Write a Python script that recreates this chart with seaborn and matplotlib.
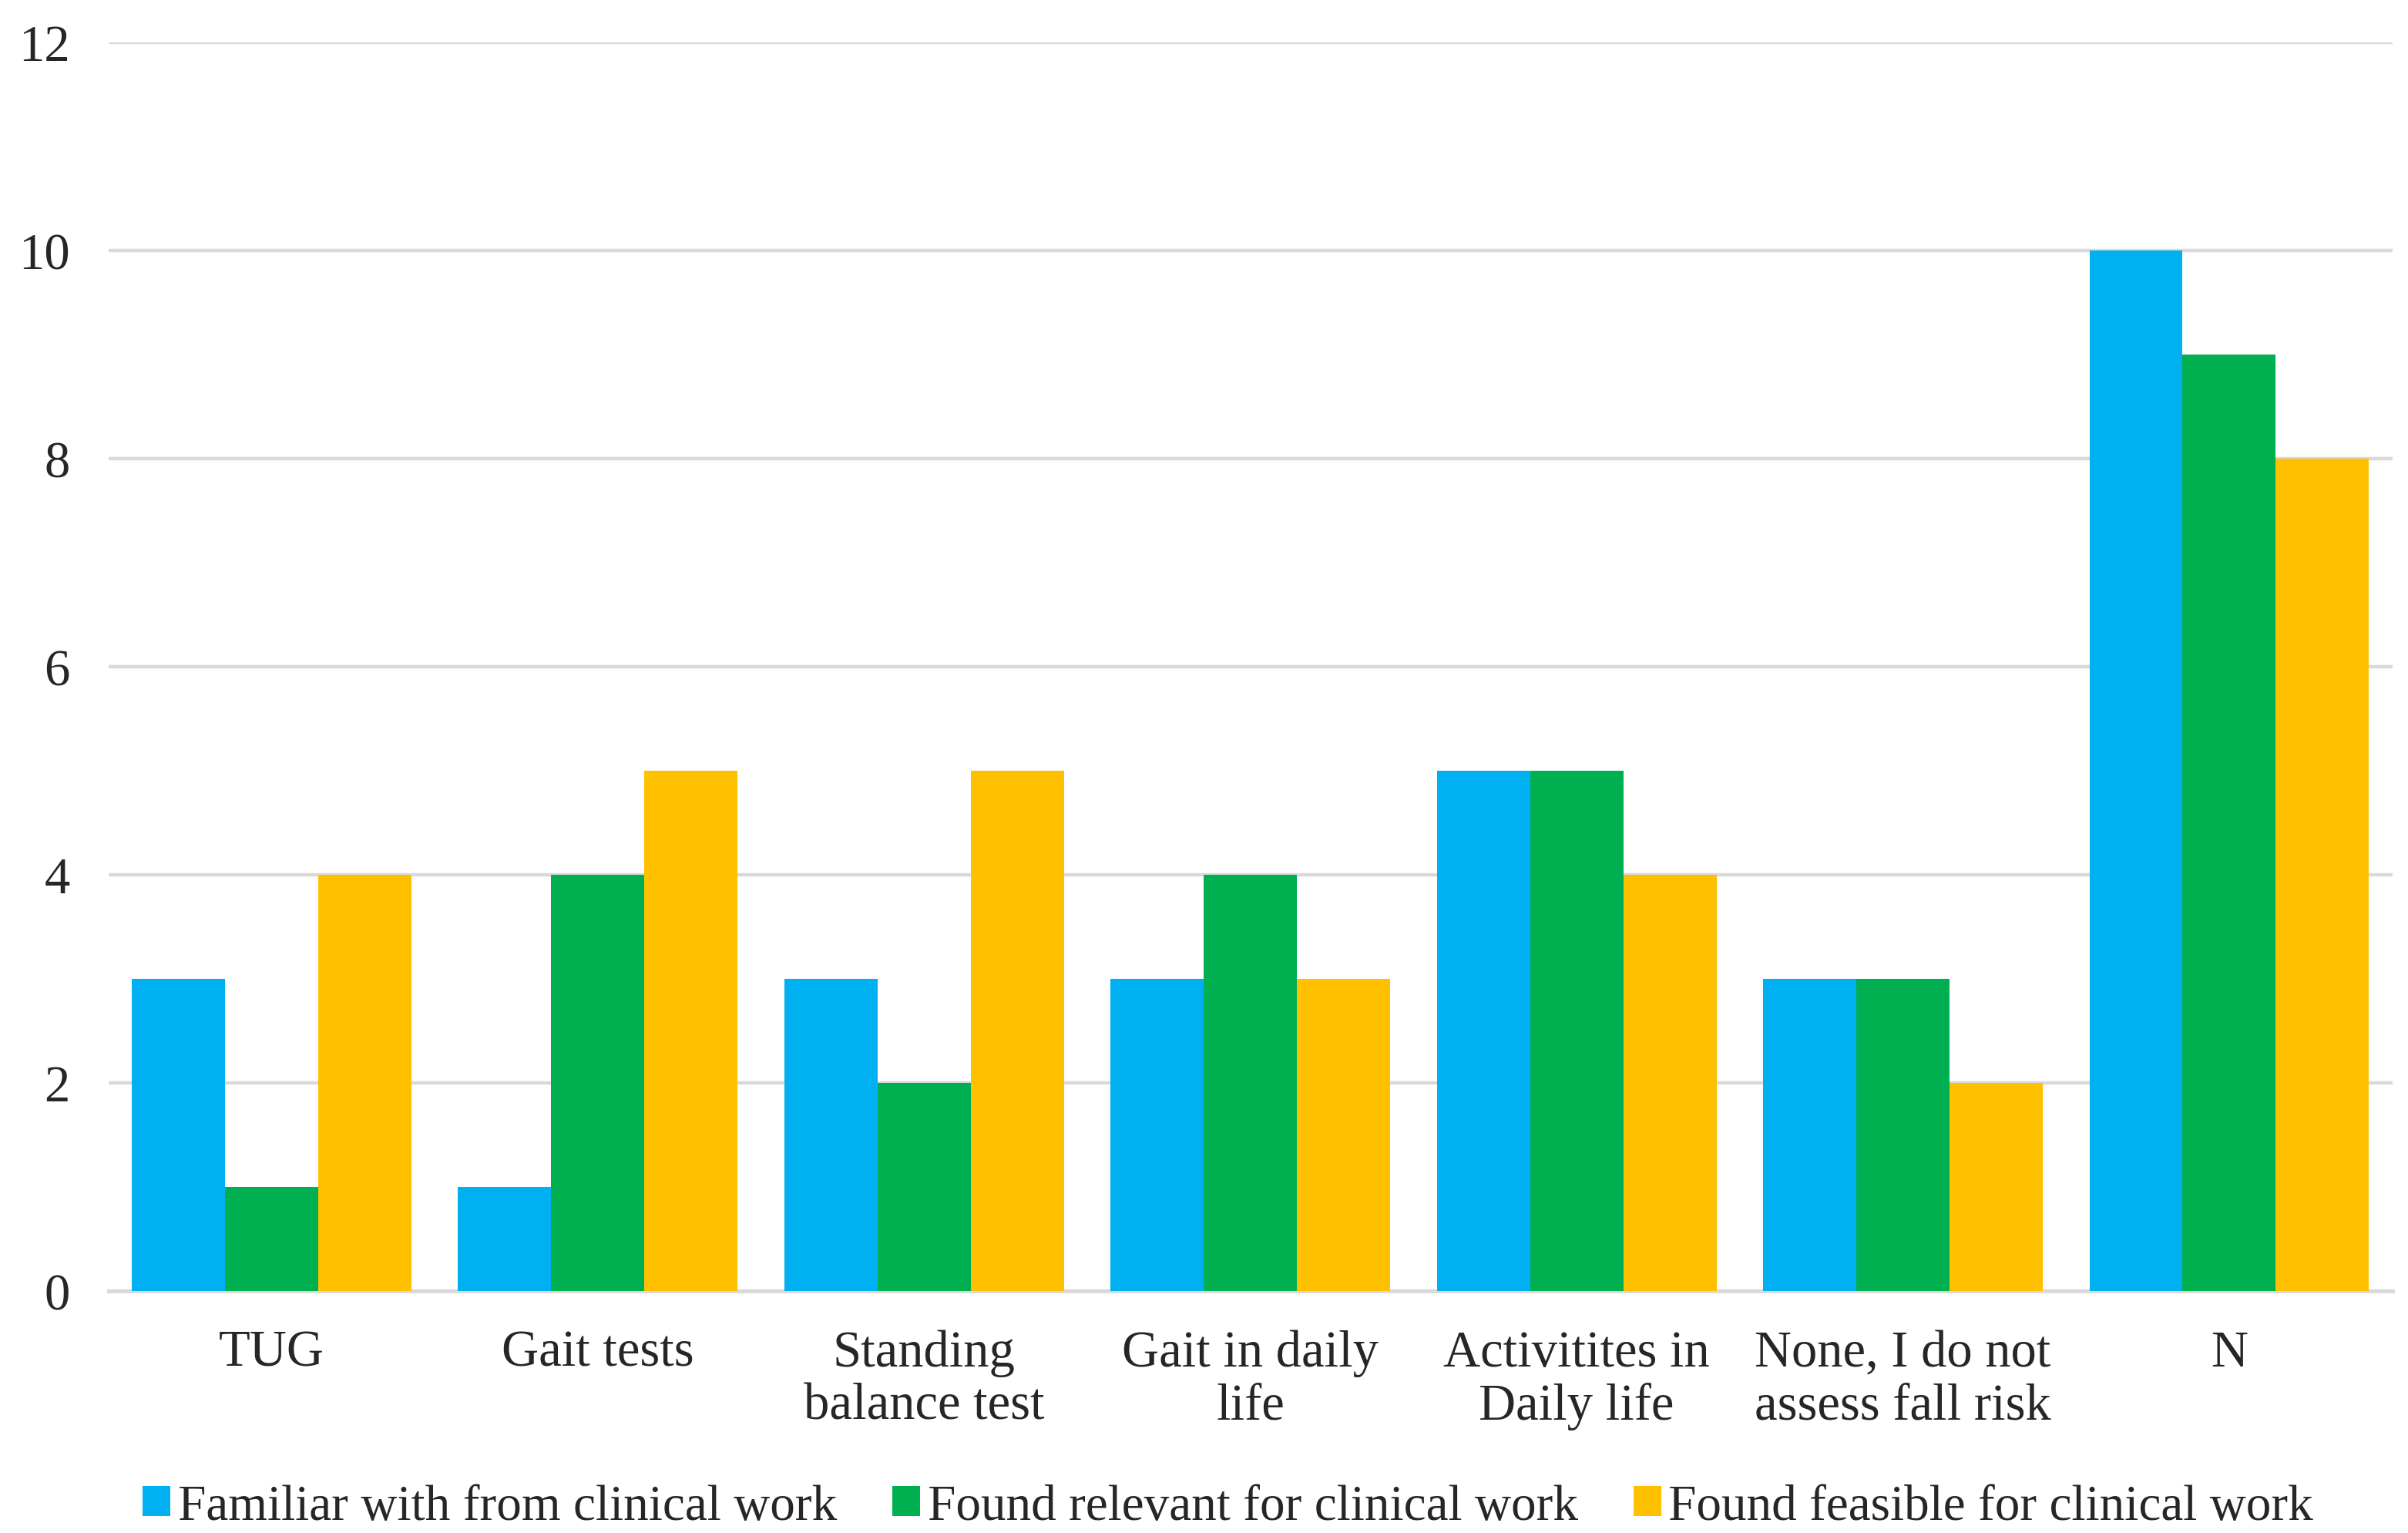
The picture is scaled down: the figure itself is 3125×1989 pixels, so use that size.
import numpy as np
import pandas as pd
import matplotlib
matplotlib.use('Agg')
import seaborn as sns
import matplotlib.pyplot as plt

categories = ['TUG', 'Gait tests', 'Standing\nbalance test', 'Gait in daily\nlife',
              'Activitites in\nDaily life', 'None, I do not\nassess fall risk', 'N']
series_names = ['Familiar with from clinical work', 'Found relevant for clinical work',
                'Found feasible for clinical work']
familiar = [3, 1, 3, 3, 5, 3, 10]
relevant = [1, 4, 2, 4, 5, 3, 9]
feasible = [4, 5, 5, 3, 4, 2, 8]
colors = ['#00B0F0', '#00B050', '#FFC000']

rows = []
for name, vals in zip(series_names, [familiar, relevant, feasible]):
    for c, v in zip(categories, vals):
        rows.append({'category': c, 'series': name, 'value': v})
df = pd.DataFrame(rows)

sns.set_style('white')
plt.rcParams['font.family'] = ['Liberation Serif', 'DejaVu Serif']

fig = plt.figure(figsize=(15.625, 9.95), dpi=200)
ax = fig.add_axes([0.045, 0.158, 0.9485, 0.814])

sns.barplot(data=df, x='category', y='value', hue='series', order=categories,
            hue_order=series_names, palette=colors, width=0.857, saturation=1,
            linewidth=0, ax=ax, zorder=3)

ax.set_ylim(0, 12)
ax.set_yticks(np.arange(0, 13, 2))
ax.set_xlim(-0.5, len(categories) - 0.5)
ax.yaxis.grid(True, color='#D9D9D9', linewidth=1.6, zorder=0)
ax.set_axisbelow(True)
for s in ['top', 'right', 'left']:
    ax.spines[s].set_visible(False)
ax.spines['bottom'].set_color('#D9D9D9')
ax.spines['bottom'].set_linewidth(1.8)
ax.tick_params(axis='both', length=0, labelsize=24)
ax.tick_params(axis='y', pad=18)
ax.tick_params(axis='x', pad=18)
for lab in ax.get_xticklabels():
    lab.set_linespacing(1.16)
ax.set_xlabel('')
ax.set_ylabel('')

handles, labels = ax.get_legend_handles_labels()
ax.get_legend().remove()
fig.legend(handles, labels, loc='center', bbox_to_anchor=(0.51, 0.017), ncol=3,
           frameon=False, fontsize=23.5, handlelength=0.55, handleheight=0.55,
           handletextpad=0.15, columnspacing=1.1)

fig.savefig('out.png', dpi=200)
